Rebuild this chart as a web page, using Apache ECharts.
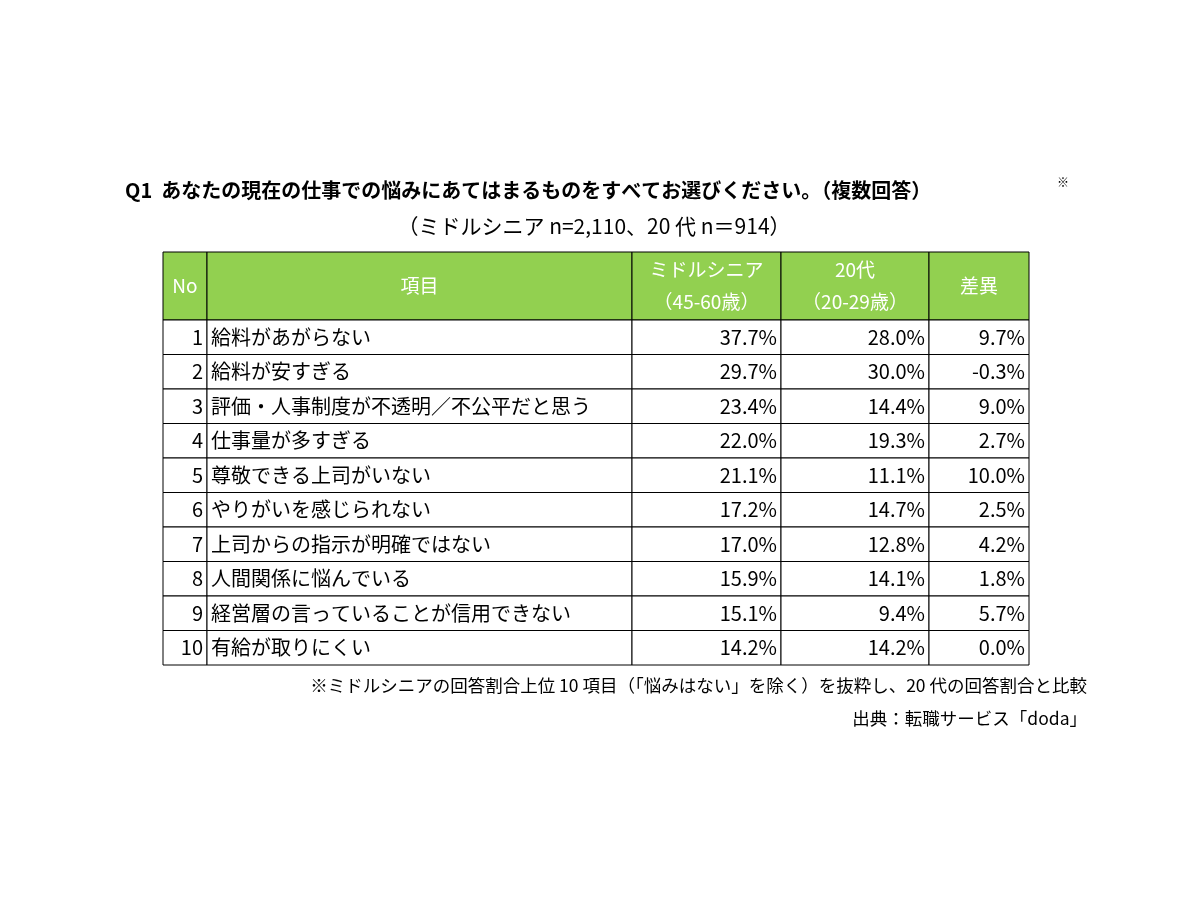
<!DOCTYPE html><html><head><meta charset="utf-8">
<script src="https://cdn.jsdelivr.net/npm/echarts@6/dist/echarts.min.js"></script>
<style>html,body{margin:0;background:#fff}#c{width:1200px;height:900px}</style></head><body><div id="c"></div>
<script>
const nos=[1,2,3,4,5,6,7,8,9,10];
const items=["給料があがらない","給料が安すぎる","評価・人事制度が不透明／不公平だと思う","仕事量が多すぎる","尊敬できる上司がいない","やりがいを感じられない","上司からの指示が明確ではない","人間関係に悩んでいる","経営層の言っていることが信用できない","有給が取りにくい"];
const middle=[37.7,29.7,23.4,22.0,21.1,17.2,17.0,15.9,15.1,14.2];
const young=[28.0,30.0,14.4,19.3,11.1,14.7,12.8,14.1,9.4,14.2];
const diff=[9.7,-0.3,9.0,2.7,10.0,2.5,4.2,1.8,5.7,0.0];
const headers=["No","項目","ミドルシニア\n（45-60歳）","20代\n（20-29歳）","差異"];
const colX=[163,207,632,781,929,1029];
const top0=252, headH=68, rowH=34.5;
const F='"Noto Sans CJK JP","Noto Sans",sans-serif';
const g=[];
g.push({type:'text',x:125,y:190,style:{text:'Q1  あなたの現在の仕事での悩みにあてはまるものをすべてお選びください。（複数回答）',font:'bold 20px '+F,fill:'#000',verticalAlign:'middle'}});
g.push({type:'text',x:1057,y:176,style:{text:'※',font:'12px '+F,fill:'#000'}});
g.push({type:'text',x:594,y:226,style:{text:'（ミドルシニア n=2,110、20 代 n＝914）',font:'21px '+F,fill:'#000',align:'center',verticalAlign:'middle'}});
for(let c=0;c<5;c++){
  g.push({type:'rect',shape:{x:colX[c],y:top0,width:colX[c+1]-colX[c],height:headH},style:{fill:'#92D050',stroke:'#000',lineWidth:1}});
  g.push({type:'text',x:(colX[c]+colX[c+1])/2,y:top0+headH/2,style:{text:headers[c],font:'19px '+F,fill:'#fff',align:'center',verticalAlign:'middle',lineHeight:32}});
}
const fmt=v=>v.toFixed(1)+'%';
for(let r=0;r<nos.length;r++){
  const y=top0+headH+r*rowH;
  const vals=[String(nos[r]),items[r],fmt(middle[r]),fmt(young[r]),fmt(diff[r])];
  for(let c=0;c<5;c++){
    g.push({type:'rect',shape:{x:colX[c],y:y,width:colX[c+1]-colX[c],height:rowH},style:{fill:'#fff',stroke:'#000',lineWidth:1}});
    const left=c===1;
    g.push({type:'text',x:left?colX[c]+4:colX[c+1]-4,y:y+rowH/2,style:{text:vals[c],font:'20px '+F,fill:'#000',align:left?'left':'right',verticalAlign:'middle'}});
  }
}
g.push({type:'text',x:1087,y:685,style:{text:'※ミドルシニアの回答割合上位 10 項目（「悩みはない」を除く）を抜粋し、20 代の回答割合と比較',font:'17.5px '+F,fill:'#000',align:'right',verticalAlign:'middle'}});
g.push({type:'text',x:1087,y:718,style:{text:'出典：転職サービス「doda」',font:'17.5px '+F,fill:'#000',align:'right',verticalAlign:'middle'}});
const ch=echarts.init(document.getElementById('c'));
ch.setOption({animation:false,backgroundColor:'#fff',graphic:g});
</script></body></html>
